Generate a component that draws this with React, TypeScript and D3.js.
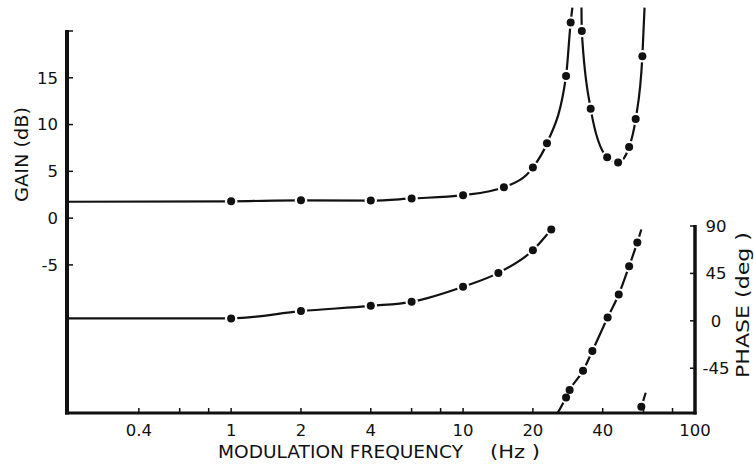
import React from "react";
import * as d3 from "d3";

// ---- data ----
// Gain (dB) vs modulation frequency (Hz)
const gainFreqA = [1, 2, 4, 6, 10, 15, 20, 23, 27.8, 29.1];
const gainValA = [1.8, 1.9, 1.87, 2.1, 2.45, 3.3, 5.4, 8.0, 15.2, 20.9];
const gainCurveStartA = [0.196, 1.75];
const gainCurveEndA = [29.6, 22.5];

const gainFreqB = [32.5, 35.5, 41.8, 46.6, 52.0, 55.5, 59.3];
const gainValB = [20.0, 11.7, 6.5, 5.95, 7.6, 10.6, 17.3];
const gainCurveStartB = [32.4, 22.5];
const gainCurveEndB = [60.6, 22.5];

// Phase (deg) vs modulation frequency (Hz)
const phaseFreqA = [1, 2, 4, 6, 10, 14.2, 20, 24];
const phaseValA = [2.3, 9.2, 14.2, 18, 32.3, 45.5, 67, 86.7];
const phaseCurveStartA = [0.196, 2.3];

const phaseFreqB = [27.8, 28.8, 32.9, 36.1, 42.0, 46.9, 52.0, 56.4];
const phaseValB = [-72.7, -65.7, -47.4, -28.7, 3.2, 25, 51.9, 74.4];
const phaseCurveStartB = [25.6, -87.3];
const phaseCurveEndB = [58.7, 86.7];

const phaseFreqC = [58.7];
const phaseValC = [-81.6];
const phaseCurveStartC = [57.5, -87.5];
const phaseCurveEndC = [61.3, -68.3];

// ticks
const xTicks = [0.4, 0.6, 0.8, 1, 2, 4, 6, 8, 10, 20, 40, 60, 80];
const xTickLabels = ["0.4", "1", "2", "4", "10", "20", "40", "100"];
const xTickLabelValues = [0.4, 1, 2, 4, 10, 20, 40, 100];
const gainTicks = [20, 15, 10, 5, 0, -5];
const gainTickLabels = ["15", "10", "5", "0", "-5"];
const gainTickLabelValues = [15, 10, 5, 0, -5];
const phaseTicks = [90, 45, 0, -45];
const phaseTickLabels = ["90", "45", "0", "-45"];

const FONT = "'DejaVu Sans', sans-serif";
const INK = "#111";

export default function App() {
  const x = d3.scaleLog().domain([0.196, 100]).range([67, 695]);
  const yG = d3.scaleLinear().domain([-20.83, 20]).range([413, 31]);
  const yP = d3.scaleLinear().domain([-87.5, 90]).range([413, 226]);

  const zip = (fs: number[], vs: number[]) => fs.map((f, i) => [f, vs[i]] as [number, number]);

  const lineG = d3
    .line<[number, number]>()
    .x((d) => x(d[0]))
    .y((d) => yG(d[1]))
    .curve(d3.curveMonotoneX);
  const lineP = d3
    .line<[number, number]>()
    .x((d) => x(d[0]))
    .y((d) => yP(d[1]))
    .curve(d3.curveMonotoneX);

  const gA = zip(gainFreqA, gainValA);
  const gB = zip(gainFreqB, gainValB);
  const pA = zip(phaseFreqA, phaseValA);
  const pB = zip(phaseFreqB, phaseValB);
  const pC = zip(phaseFreqC, phaseValC);

  const curves = [
    lineG([gainCurveStartA as [number, number], ...gA, gainCurveEndA as [number, number]]),
    lineG([gainCurveStartB as [number, number], ...gB, gainCurveEndB as [number, number]]),
    lineP([phaseCurveStartA as [number, number], ...pA]),
    lineP([phaseCurveStartB as [number, number], ...pB, phaseCurveEndB as [number, number]]),
    lineP([phaseCurveStartC as [number, number], ...pC, phaseCurveEndC as [number, number]]),
  ];

  const dots: [number, number][] = [
    ...gA.map((d) => [x(d[0]), yG(d[1])] as [number, number]),
    ...gB.map((d) => [x(d[0]), yG(d[1])] as [number, number]),
    ...pA.map((d) => [x(d[0]), yP(d[1])] as [number, number]),
    ...pB.map((d) => [x(d[0]), yP(d[1])] as [number, number]),
    ...pC.map((d) => [x(d[0]), yP(d[1])] as [number, number]),
  ];

  const [x0, x1] = x.range();
  const yBottom = 413;

  return (
    <svg
      width={754}
      height={467}
      style={{ position: "absolute", left: 0, top: 0, background: "#fff" }}
      fontFamily={FONT}
    >
      <rect x={0} y={0} width={754} height={467} fill="#fff" />
      {curves.map((d, i) => (
        <path key={i} d={d || ""} fill="none" stroke={INK} strokeWidth={2.2} />
      ))}
      {dots.map((d, i) => (
        <circle key={"h" + i} cx={d[0]} cy={d[1]} r={6.2} fill="#fff" />
      ))}
      {dots.map((d, i) => (
        <circle key={"d" + i} cx={d[0]} cy={d[1]} r={4} fill={INK} />
      ))}

      {/* bottom axis */}
      <line x1={x0 - 2} x2={x1 + 1.5} y1={yBottom} y2={yBottom} stroke={INK} strokeWidth={3} />
      {xTicks.map((t) => (
        <line key={t} x1={x(t)} x2={x(t)} y1={yBottom} y2={yBottom - 5} stroke={INK} strokeWidth={1.5} />
      ))}
      {xTickLabels.map((l, i) => (
        <text key={l} x={x(xTickLabelValues[i])} y={436} textAnchor="middle" fontSize={16.5} fill={INK}>
          {l}
        </text>
      ))}
      <text x={218} y={458} fontSize={17.5} fill={INK} textLength={245} lengthAdjust="spacingAndGlyphs">
        MODULATION FREQUENCY
      </text>
      <text x={490} y={458} fontSize={17.5} fill={INK} textLength={50} lengthAdjust="spacingAndGlyphs">
        (Hz )
      </text>

      {/* left gain axis */}
      <line x1={x0} x2={x0} y1={yG(20) - 1} y2={yBottom + 1.5} stroke={INK} strokeWidth={4} />
      {gainTicks.map((t) => (
        <line key={t} x1={x0} x2={x0 + 6} y1={yG(t)} y2={yG(t)} stroke={INK} strokeWidth={1.5} />
      ))}
      {gainTickLabels.map((l, i) => (
        <text key={l} x={58} y={yG(gainTickLabelValues[i])} dy="0.36em" textAnchor="end" fontSize={16.5} fill={INK}>
          {l}
        </text>
      ))}
      <text
        transform={`translate(28,154.5) rotate(-90)`}
        textAnchor="middle"
        fontSize={17}
        fill={INK}
        textLength={95}
        lengthAdjust="spacingAndGlyphs"
      >
        GAIN (dB)
      </text>

      {/* right phase axis */}
      <line x1={x1} x2={x1} y1={yP(90) - 1} y2={yBottom + 1.5} stroke={INK} strokeWidth={3.5} />
      {phaseTicks.map((t) => (
        <line key={t} x1={x1} x2={x1 - 5} y1={yP(t)} y2={yP(t)} stroke={INK} strokeWidth={1.5} />
      ))}
      {phaseTickLabels.map((l, i) => (
        <text key={l} x={716} y={yP(phaseTicks[i])} dy="0.36em" textAnchor="middle" fontSize={16.5} fill={INK}>
          {l}
        </text>
      ))}
      <text
        transform={`translate(749,305) rotate(-90)`}
        textAnchor="middle"
        fontSize={17}
        fill={INK}
        textLength={146}
        lengthAdjust="spacingAndGlyphs"
      >
        PHASE (deg )
      </text>
    </svg>
  );
}
